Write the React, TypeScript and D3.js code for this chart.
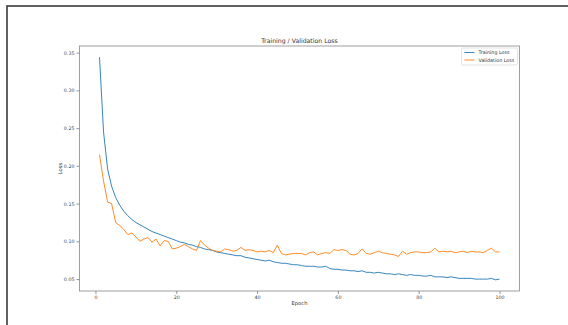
import React, { useEffect, useRef } from 'react';
import * as d3 from 'd3';

// loss per epoch
const trainLoss = [
  0.344, 0.245, 0.196, 0.173, 0.158, 0.148, 0.140, 0.134, 0.129, 0.125,
  0.122, 0.119, 0.116, 0.113, 0.111, 0.109, 0.107, 0.105, 0.103, 0.101,
  0.099, 0.098, 0.096, 0.095, 0.093, 0.092, 0.090, 0.089, 0.088, 0.086,
  0.085, 0.084, 0.083, 0.082, 0.081, 0.081, 0.079, 0.078, 0.077, 0.076,
  0.075, 0.074, 0.075, 0.073, 0.072, 0.071, 0.071, 0.070, 0.069, 0.069,
  0.068, 0.067, 0.067, 0.067, 0.066, 0.066, 0.067, 0.064, 0.063, 0.063,
  0.062, 0.062, 0.061, 0.061, 0.060, 0.061, 0.059, 0.059, 0.058, 0.059,
  0.058, 0.057, 0.057, 0.056, 0.057, 0.056, 0.055, 0.056, 0.055, 0.055,
  0.054, 0.054, 0.055, 0.053, 0.053, 0.053, 0.052, 0.053, 0.052, 0.051,
  0.051, 0.051, 0.051, 0.050, 0.050, 0.050, 0.050, 0.051, 0.049, 0.050,
];

const valLoss = [
  0.215, 0.180, 0.152, 0.150, 0.125, 0.121, 0.116, 0.109, 0.111, 0.106,
  0.100, 0.103, 0.105, 0.099, 0.103, 0.094, 0.101, 0.100, 0.090, 0.091,
  0.093, 0.096, 0.093, 0.090, 0.088, 0.101, 0.095, 0.091, 0.088, 0.087,
  0.086, 0.090, 0.089, 0.087, 0.088, 0.092, 0.088, 0.089, 0.088, 0.086,
  0.087, 0.086, 0.088, 0.085, 0.095, 0.084, 0.082, 0.083, 0.084, 0.084,
  0.084, 0.082, 0.085, 0.086, 0.082, 0.084, 0.085, 0.084, 0.089, 0.088,
  0.089, 0.088, 0.083, 0.082, 0.084, 0.090, 0.084, 0.083, 0.085, 0.087,
  0.085, 0.084, 0.083, 0.082, 0.080, 0.087, 0.083, 0.085, 0.086, 0.086,
  0.085, 0.085, 0.086, 0.091, 0.086, 0.087, 0.086, 0.087, 0.085, 0.086,
  0.087, 0.085, 0.087, 0.086, 0.086, 0.085, 0.088, 0.091, 0.086, 0.086,
];

const epochs = trainLoss.map((_, i) => i + 1);
const xTicks = [0, 20, 40, 60, 80, 100];
const yTicks = [0.05, 0.10, 0.15, 0.20, 0.25, 0.30, 0.35];
const seriesNames = ['Training Loss', 'Validation Loss'];
const seriesColors = ['#1f77b4', '#ff7f0e'];

const W = 568;
const H = 325;

const App = () => {
  const ref = useRef<SVGSVGElement>(null);

  useEffect(() => {
    const svg = d3.select(ref.current);
    svg.selectAll('*').remove();

    // plot area (matplotlib style axes box)
    const margin = { top: 46, right: 48.5, bottom: 34, left: 79.5 };
    const iw = W - margin.left - margin.right;
    const ih = H - margin.top - margin.bottom;

    // outer frame of the screenshot
    svg.append('rect')
      .attr('x', 7).attr('y', 6)
      .attr('width', 600).attr('height', 400)
      .attr('fill', '#fff')
      .attr('stroke', '#3a3a3a')
      .attr('stroke-width', 1.6);

    const all = trainLoss.concat(valLoss);
    const ymin = d3.min(all) as number;
    const ymax = d3.max(all) as number;
    const ypad = (ymax - ymin) * 0.05;
    const xpad = (epochs.length - 1) * 0.05;

    const x = d3.scaleLinear()
      .domain([1 - xpad, epochs.length + xpad])
      .range([0, iw]);
    const y = d3.scaleLinear()
      .domain([ymin - ypad, ymax + ypad])
      .range([ih, 0]);

    const g = svg.append('g')
      .attr('transform', 'translate(' + margin.left + ',' + margin.top + ')');

    const font = 'DejaVu Sans, sans-serif';

    // axes
    const xAxis = g.append('g')
      .attr('transform', 'translate(0,' + ih + ')')
      .call(d3.axisBottom(x).tickValues(xTicks).tickSize(3).tickPadding(2).tickFormat(d3.format('d')));
    const yAxis = g.append('g')
      .call(d3.axisLeft(y).tickValues(yTicks).tickSize(3).tickPadding(2).tickFormat(d3.format('.2f')));

    [xAxis, yAxis].forEach(a => {
      a.select('.domain').remove();
      a.selectAll('line').attr('stroke', '#666').attr('stroke-width', 0.7);
      a.selectAll('text')
        .attr('fill', '#444')
        .style('font-family', font)
        .style('font-size', '4.8px');
    });

    // spines
    g.append('rect')
      .attr('width', iw).attr('height', ih)
      .attr('fill', 'none')
      .attr('stroke', '#888')
      .attr('stroke-width', 0.8);

    const line = d3.line<number>()
      .x((d, i) => x(epochs[i]))
      .y(d => y(d));

    [trainLoss, valLoss].forEach((s, k) => {
      g.append('path')
        .datum(s)
        .attr('fill', 'none')
        .attr('stroke', seriesColors[k])
        .attr('stroke-width', 0.9)
        .attr('stroke-linejoin', 'round')
        .attr('d', line);
    });

    // title and labels
    g.append('text')
      .attr('x', iw / 2).attr('y', -3)
      .attr('text-anchor', 'middle')
      .attr('fill', '#333')
      .style('font-family', font)
      .style('font-size', '6.2px')
      .text('Training / Validation Loss');

    g.append('text')
      .attr('x', iw / 2).attr('y', ih + 14)
      .attr('text-anchor', 'middle')
      .attr('fill', '#333')
      .style('font-family', font)
      .style('font-size', '5.2px')
      .text('Epoch');

    g.append('text')
      .attr('transform', 'translate(-18,' + (ih / 2) + ') rotate(-90)')
      .attr('text-anchor', 'middle')
      .attr('fill', '#333')
      .style('font-family', font)
      .style('font-size', '5.2px')
      .text('Loss');

    // legend
    const lg = g.append('g').attr('transform', 'translate(' + (iw - 58) + ',2)');
    lg.append('rect')
      .attr('width', 56).attr('height', 17)
      .attr('rx', 1.5)
      .attr('fill', '#fff')
      .attr('stroke', '#d6d6d6')
      .attr('stroke-width', 0.7);
    seriesNames.forEach((name, k) => {
      const yy = 4.5 + k * 7.5;
      lg.append('line')
        .attr('x1', 3).attr('x2', 13)
        .attr('y1', yy).attr('y2', yy)
        .attr('stroke', seriesColors[k])
        .attr('stroke-width', 0.9);
      lg.append('text')
        .attr('x', 17).attr('y', yy)
        .attr('dy', '0.35em')
        .attr('fill', '#333')
        .style('font-family', font)
        .style('font-size', '4.8px')
        .text(name);
    });
  }, []);

  return (
    <div style={{ position: 'absolute', left: 0, top: 0 }}>
      <svg ref={ref} width={W} height={H} style={{ display: 'block', background: '#fff' }} />
    </div>
  );
};

export default App;
